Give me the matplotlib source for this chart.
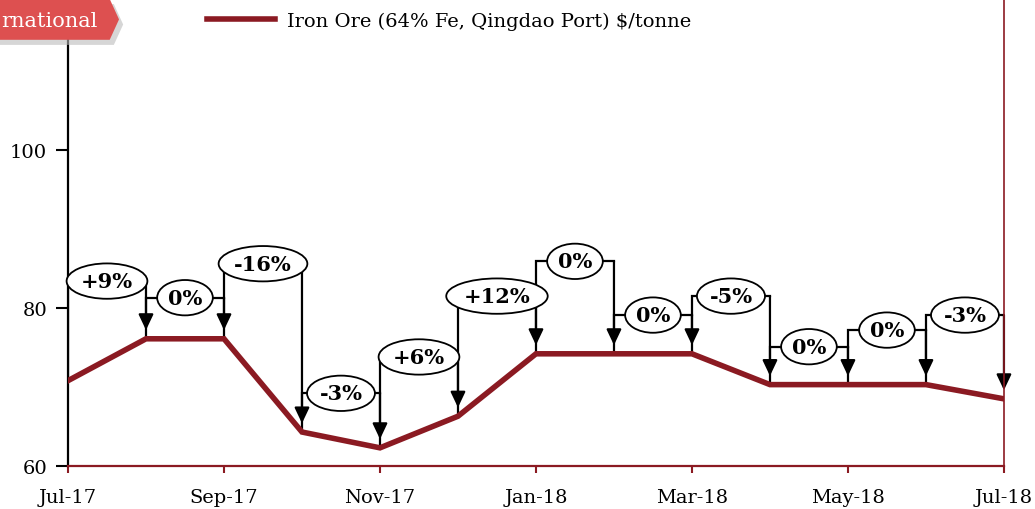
import numpy as np
import matplotlib.pyplot as plt
from matplotlib.patches import Polygon

months = ['Jul-17', 'Aug-17', 'Sep-17', 'Oct-17', 'Nov-17', 'Dec-17', 'Jan-18',
          'Feb-18', 'Mar-18', 'Apr-18', 'May-18', 'Jun-18', 'Jul-18']
price = [70.8, 76.1, 76.1, 64.3, 62.3, 66.3, 74.2, 74.2, 74.2, 70.3, 70.3, 70.3, 68.5]
changes = ['+9%', '0%', '-16%', '-3%', '+6%', '+12%', '0%', '0%', '-5%', '0%', '0%', '-3%']
bracket_level = [83.4, 81.3, 85.6, 69.2, 73.8, 81.5, 85.9, 79.1, 81.5, 75.1, 77.2, 79.1]

red = '#8B1A22'
plt.rcParams['font.family'] = ['DejaVu Serif', 'Liberation Serif']

fig = plt.figure(figsize=(10.35, 5.10), dpi=100)
ax = fig.add_axes([0.0657, 0.0843, 0.9043, 0.9157])

x = np.arange(len(months))
ax.plot(x, price, color=red, lw=4.0, solid_joinstyle='miter', zorder=3,
        label='Iron Ore (64% Fe, Qingdao Port) $/tonne')

# bracket arrows with % change labels
for i, (lab, lev) in enumerate(zip(changes, bracket_level)):
    ax.plot([x[i], x[i], x[i + 1]], [price[i], lev, lev], color='black', lw=1.6,
            zorder=2, solid_joinstyle='miter')
    ax.annotate('', xy=(x[i + 1], price[i + 1] + 1.1), xytext=(x[i + 1], lev),
                arrowprops=dict(arrowstyle='-|>,head_length=0.95,head_width=0.45',
                                color='black', lw=1.6, shrinkA=0, shrinkB=0),
                zorder=2)
    ax.text(x[i] + 0.5, lev, lab, ha='center', va='center', fontsize=15,
            fontweight='bold', zorder=4,
            bbox=dict(boxstyle='ellipse,pad=0.12', fc='white', ec='black', lw=1.3))

ax.set_xlim(0, 12)
ax.set_ylim(60, 119.1)
ax.set_xticks(x[::2])
ax.set_xticklabels(months[::2], fontsize=14)
ax.set_yticks([60, 80, 100])
ax.set_yticklabels(['60', '80', '100'], fontsize=14)
ax.tick_params(axis='x', colors=red, length=5, width=1.5, pad=11, labelcolor='black')
ax.tick_params(axis='y', length=9, width=1.5, pad=6)

ax.spines['top'].set_visible(False)
ax.spines['left'].set_linewidth(1.6)
ax.spines['bottom'].set_color(red)
ax.spines['bottom'].set_linewidth(1.6)
ax.spines['right'].set_color(red)
ax.spines['right'].set_linewidth(1.2)

ax.legend(loc='upper left', bbox_to_anchor=(0.13, 1.01), frameon=False,
          fontsize=14, handlelength=3.5, handletextpad=0.6)

# red tag at top-left, cut off by the figure edge
shadow = Polygon([(0, 0.91), (0.11, 0.91), (0.119, 0.95), (0.11, 0.99), (0, 0.99)],
                 closed=True, transform=fig.transFigure, fc='#bbbbbb', ec='none', alpha=0.6)
tag = Polygon([(0, 0.92), (0.106, 0.92), (0.115, 0.96), (0.106, 1.0), (0, 1.0)],
              closed=True, transform=fig.transFigure, fc='#DD5050', ec='none')
fig.patches.extend([shadow, tag])
fig.text(0.094, 0.958, 'rnational', ha='right', va='center', color='white', fontsize=15)

fig.savefig('out.png', dpi=100)
